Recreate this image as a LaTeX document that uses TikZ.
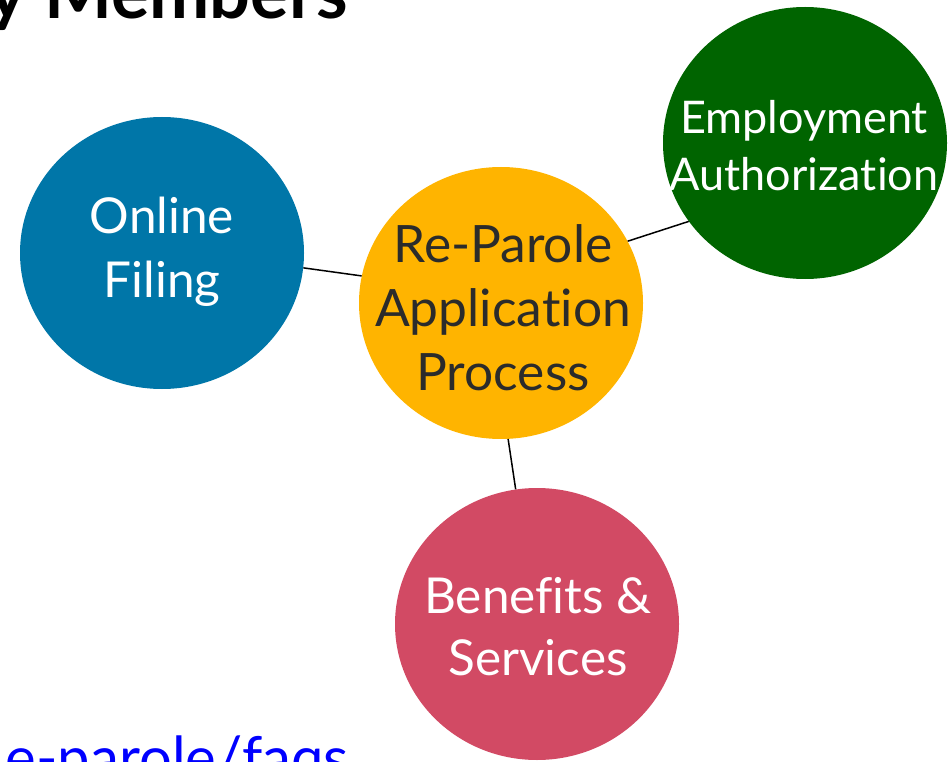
\documentclass[tikz,border=0pt]{standalone}
\usepackage{fontspec}
\setmainfont{Lato}[Ligatures=NoCommon]
\usetikzlibrary{shapes.geometric}
\definecolor{cblue}{HTML}{0076A8}
\definecolor{cgreen}{HTML}{006400}
\definecolor{cyellow}{HTML}{FFB400}
\definecolor{cred}{HTML}{D24A64}
\definecolor{ctext}{HTML}{2B2B2B}
\definecolor{clink}{HTML}{0000FF}
\tikzset{
  bubble/.style={ellipse, minimum width=284pt, minimum height=272pt, inner sep=0pt},
  btext/.style={align=center, inner sep=0pt},
  link/.style={draw=black, line width=1.5pt}
}
\begin{document}
\begin{tikzpicture}[x=1pt,y=-1pt]
\useasboundingbox (0,0) rectangle (948,762);
\clip (0,0) rectangle (948,762);
\node[anchor=base east, font=\bfseries\fontsize{72}{80}\selectfont] (title) at (351,19) {y Members};
\node[anchor=base east, text=clink, font=\fontsize{58}{66}\selectfont] (url) at (352,778) {e-parole/faqs};
\node[bubble, fill=cblue] (of) at (162,253) {};
\node[bubble, fill=cyellow] (rp) at (501,303) {};
\node[bubble, fill=cgreen] (ea) at (805,143) {};
\node[bubble, fill=cred] (bs) at (537,624) {};
\node[btext, text=white, font=\fontsize{49.5}{64}\selectfont] (oft) at (162,252) {Online\\Filing};
\node[btext, text=ctext, font=\fontsize{51.5}{64}\selectfont] (rpt) at (503,308) {Re-Parole\\Application\\Process};
\node[btext, text=white, font=\fontsize{45}{57}\selectfont] (eat) at (804,146) {Employment\\Authorization};
\node[btext, text=white, font=\fontsize{49.5}{62}\selectfont] (bst) at (538,627) {Benefits \&\\Services};
\draw[link] (of.-6) -- (rp.169);
\draw[link] (rp.26) -- (ea.214);
\draw[link] (rp.-87) -- (bs.99);
\end{tikzpicture}
\end{document}
